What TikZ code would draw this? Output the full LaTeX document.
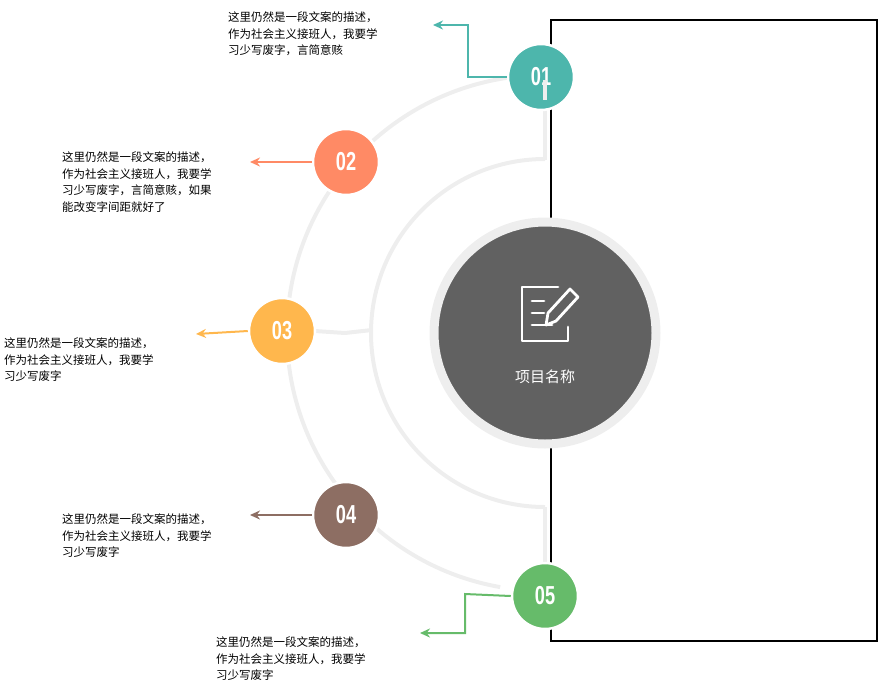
\documentclass[tikz,border=0pt]{standalone}
\usepackage{fontspec}
\setmainfont{Liberation Sans}
\newfontfamily\cjk{Noto Sans CJK SC}
\usetikzlibrary{arrows.meta}
\definecolor{cA}{HTML}{4DB6AC}
\definecolor{cB}{HTML}{FF8A65}
\definecolor{cC}{HTML}{FFB74D}
\definecolor{cD}{HTML}{8D6E63}
\definecolor{cE}{HTML}{66BB6A}
\definecolor{arcg}{HTML}{EEEEEE}
\definecolor{dark}{HTML}{616161}
\begin{document}
\begin{tikzpicture}[x=1pt,y=-1pt,
  num/.style={circle,minimum size=66pt,inner sep=0pt,draw=white,line width=2.5pt,text=white,font=\bfseries\fontsize{26}{26}\selectfont},
  desc/.style={anchor=north west,align=left,inner sep=0pt,font=\cjk\fontsize{11.5}{16.5}\selectfont},
  arc/.style={arcg,line width=4pt},
  arr/.style={line width=2pt,-{Stealth[length=10pt,width=9pt]}}]
\useasboundingbox (0,0) rectangle (880,697);
\draw[line width=1.5pt] (551,20) rectangle (877,641);
% arcs
\draw[arc] (545,333) ++(100:258) arc[start angle=100,end angle=262,radius=258];
\draw[arc] (545,333) ++(90:174) arc[start angle=90,end angle=270,radius=174];
\draw[arc] (545,90) -- (545,160);
\draw[arc] (545,507) -- (545,565);
\draw[arc] (300,330) -- (345,333) -- (372,330);
% center
\node[circle,fill=dark,draw=arcg,line width=9pt,minimum size=222pt] (c) at (545,333) {};
% icon
\begin{scope}[shift={(548,313)},white,line width=2.8pt,line cap=round,line join=round]
\draw (10,-26) -- (-26,-26) -- (-26,28) -- (20,28) -- (20,14);
\draw (-16,-12) -- (-4,-12) (-16,0) -- (-4,0) (-16,12) -- (4,12);
\draw (22,-24) -- (30,-16) -- (8,8) -- (-2,12) -- (0,0) -- cycle;
\end{scope}
\node[text=white,font=\cjk\fontsize{15}{15}\selectfont] (ct) at (545,377) {项目名称};
% number circles
\node[num,fill=cA] (n1) at (541,77) {\scalebox{0.7}[1]{01}};
\node[num,fill=cB] (n2) at (346,162) {\scalebox{0.7}[1]{02}};
\node[num,fill=cC] (n3) at (282,331) {\scalebox{0.7}[1]{03}};
\node[num,fill=cD] (n4) at (346,515) {\scalebox{0.7}[1]{04}};
\node[num,fill=cE] (n5) at (545,596) {\scalebox{0.7}[1]{05}};
\draw[arcg,line width=4pt] (545,80) -- (545,100);
% arrows
\coordinate (a1) at (433,25);
\draw[arr,cA] (n1.west) -- (468,77) -- (468,25) -- (a1);
\coordinate (a2) at (250,162);
\draw[arr,cB] (n2.west) -- (a2);
\coordinate (a3) at (196,334);
\draw[arr,cC] (n3.west) -- (a3);
\coordinate (a4) at (250,515);
\draw[arr,cD] (n4.west) -- (a4);
\coordinate (a5) at (420,633);
\draw[arr,cE] (n5.west) -- (465,594) -- (465,633) -- (a5);
% texts
\node[desc] (t1) at (228,12) {这里仍然是一段文案的描述，\\作为社会主义接班人，我要学\\习少写废字，言简意赅};
\node[desc] (t2) at (62,152) {这里仍然是一段文案的描述，\\作为社会主义接班人，我要学\\习少写废字，言简意赅，如果\\能改变字间距就好了};
\node[desc] (t3) at (4,338) {这里仍然是一段文案的描述，\\作为社会主义接班人，我要学\\习少写废字};
\node[desc] (t4) at (62,514) {这里仍然是一段文案的描述，\\作为社会主义接班人，我要学\\习少写废字};
\node[desc] (t5) at (216,637) {这里仍然是一段文案的描述，\\作为社会主义接班人，我要学\\习少写废字};
\end{tikzpicture}
\end{document}
